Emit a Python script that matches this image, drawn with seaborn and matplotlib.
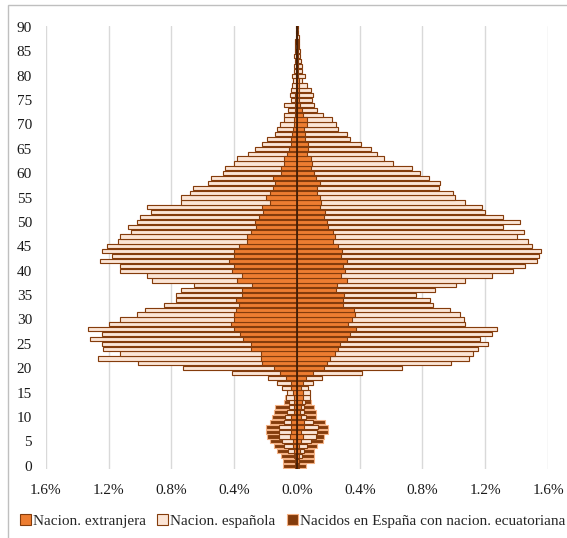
import numpy as np
import pandas as pd
import seaborn as sns
import matplotlib.pyplot as plt
from matplotlib.patches import Patch, Rectangle
from matplotlib.ticker import FuncFormatter

# Edades simples 0-90, % sobre el total de población
edades = list(range(91))

# Lado izquierdo
hom_extr = [0.008, 0.010, 0.012, 0.018, 0.024, 0.028, 0.045, 0.040, 0.040, 0.040,
            0.035, 0.022, 0.022, 0.022, 0.022, 0.026, 0.035, 0.040, 0.070, 0.106,
            0.147, 0.225, 0.230, 0.230, 0.290, 0.290, 0.345, 0.360, 0.400, 0.420,
            0.400, 0.400, 0.390, 0.370, 0.390, 0.350, 0.350, 0.285, 0.380, 0.350,
            0.415, 0.400, 0.430, 0.400, 0.400, 0.370, 0.320, 0.320, 0.295, 0.260,
            0.270, 0.240, 0.215, 0.225, 0.170, 0.200, 0.175, 0.155, 0.140, 0.150,
            0.100, 0.100, 0.080, 0.080, 0.066, 0.050, 0.040, 0.035, 0.030, 0.025,
            0.020, 0.020, 0.015, 0.015, 0.012, 0.010, 0.010, 0.008, 0.008, 0.005,
            0.005, 0.004, 0.004, 0.003, 0.004, 0.003, 0.002, 0.003, 0.002, 0.002, 0.002]
hom_esp = [0.002, 0.002, 0.005, 0.037, 0.061, 0.070, 0.072, 0.077, 0.077, 0.043,
           0.042, 0.040, 0.028, 0.028, 0.048, 0.040, 0.063, 0.088, 0.117, 0.309,
           0.578, 0.785, 1.040, 0.900, 0.945, 0.950, 0.975, 0.880, 0.935, 0.780,
           0.730, 0.620, 0.577, 0.480, 0.380, 0.420, 0.390, 0.372, 0.547, 0.607,
           0.715, 0.730, 0.825, 0.780, 0.840, 0.840, 0.820, 0.810, 0.765, 0.820,
           0.750, 0.760, 0.715, 0.732, 0.570, 0.540, 0.505, 0.505, 0.425, 0.400,
           0.370, 0.360, 0.320, 0.300, 0.244, 0.215, 0.180, 0.155, 0.110, 0.105,
           0.086, 0.063, 0.068, 0.045, 0.071, 0.026, 0.035, 0.028, 0.022, 0.020,
           0.025, 0.016, 0.016, 0.012, 0.016, 0.012, 0.008, 0.012, 0.006, 0.003, 0.002]
hom_ecu = [0.077, 0.075, 0.083, 0.075, 0.062, 0.072, 0.073, 0.083, 0.083, 0.091,
           0.083, 0.083, 0.090, 0.030, 0.005, 0, 0, 0, 0, 0,
           0, 0, 0, 0, 0, 0, 0, 0, 0, 0,
           0, 0, 0, 0, 0, 0, 0, 0, 0, 0,
           0, 0, 0, 0, 0, 0, 0, 0, 0, 0,
           0, 0, 0, 0, 0, 0, 0, 0, 0, 0,
           0, 0, 0, 0, 0, 0, 0, 0, 0, 0,
           0, 0, 0, 0, 0, 0, 0, 0, 0, 0,
           0, 0, 0, 0, 0, 0, 0, 0, 0, 0, 0]

# Lado derecho
muj_extr = [0.006, 0.010, 0.015, 0.020, 0.015, 0.027, 0.038, 0.027, 0.042, 0.042,
            0.027, 0.019, 0.023, 0.032, 0.036, 0.036, 0.028, 0.040, 0.060, 0.100,
            0.174, 0.191, 0.208, 0.245, 0.262, 0.276, 0.320, 0.336, 0.376, 0.327,
            0.353, 0.370, 0.366, 0.295, 0.291, 0.300, 0.249, 0.257, 0.317, 0.278,
            0.306, 0.291, 0.320, 0.278, 0.285, 0.262, 0.232, 0.240, 0.232, 0.200,
            0.193, 0.174, 0.179, 0.149, 0.153, 0.145, 0.130, 0.128, 0.149, 0.119,
            0.108, 0.087, 0.093, 0.087, 0.062, 0.068, 0.072, 0.051, 0.050, 0.047,
            0.062, 0.062, 0.038, 0.034, 0.017, 0.015, 0.015, 0.012, 0.010, 0.010,
            0.008, 0.008, 0.006, 0.006, 0.005, 0.005, 0.004, 0.004, 0.003, 0.003, 0.002]
muj_esp = [0.005, 0.005, 0.017, 0.027, 0.051, 0.062, 0.083, 0.101, 0.092, 0.060,
           0.033, 0.028, 0.024, 0.021, 0.049, 0.049, 0.042, 0.060, 0.100, 0.315,
           0.496, 0.791, 0.889, 0.880, 0.894, 0.944, 0.849, 0.910, 0.902, 0.744,
           0.714, 0.671, 0.607, 0.574, 0.555, 0.457, 0.633, 0.759, 0.757, 0.968,
           1.072, 1.161, 1.210, 1.267, 1.271, 1.238, 1.238, 1.160, 1.218, 1.110,
           1.231, 1.142, 1.021, 1.033, 0.921, 0.861, 0.865, 0.775, 0.763, 0.721,
           0.676, 0.648, 0.521, 0.470, 0.448, 0.402, 0.334, 0.289, 0.270, 0.213,
           0.184, 0.159, 0.126, 0.096, 0.093, 0.083, 0.089, 0.079, 0.056, 0.020,
           0.043, 0.022, 0.028, 0.019, 0.015, 0.015, 0.011, 0.009, 0.007, 0.005, 0.003]
muj_ecu = [0.049, 0.095, 0.074, 0.059, 0.059, 0.079, 0.051, 0.070, 0.064, 0.074,
           0.061, 0.074, 0.061, 0.036, 0, 0, 0, 0, 0, 0,
           0, 0, 0, 0, 0, 0, 0, 0, 0, 0,
           0, 0, 0, 0, 0, 0, 0, 0, 0, 0,
           0, 0, 0, 0, 0, 0, 0, 0, 0, 0,
           0, 0, 0, 0, 0, 0, 0, 0, 0, 0,
           0, 0, 0, 0, 0, 0, 0, 0, 0, 0,
           0, 0, 0, 0, 0, 0, 0, 0, 0, 0,
           0, 0, 0, 0, 0, 0, 0, 0, 0, 0, 0]

series = ["Nacion. extranjera", "Nacion. española",
          "Nacidos en España con nacion. ecuatoriana"]
c_extr, c_esp, c_ecu = "#ED7D31", "#FBE5D6", "#843C0C"
borde = "#843C0C"

sns.set_theme(style="white")
plt.rcParams["font.family"] = ["Liberation Serif", "DejaVu Serif"]

fig = plt.figure(figsize=(5.67, 5.38), dpi=100)
ax = fig.add_axes([0.081, 0.128, 0.8855, 0.8237])

# barras apiladas: se dibuja el total y encima los tramos interiores
for signo, extr, esp, ecu in [(-1, hom_extr, hom_esp, hom_ecu),
                              (1, muj_extr, muj_esp, muj_ecu)]:
    df = pd.DataFrame({"edad": edades, "extr": extr, "esp": esp, "ecu": ecu})
    df["c1"] = signo * df["extr"]
    df["c2"] = signo * (df["extr"] + df["esp"])
    df["c3"] = signo * (df["extr"] + df["esp"] + df["ecu"])
    for col, color, ec in [("c3", c_ecu, "#F4B183"), ("c2", c_esp, borde),
                           ("c1", c_extr, borde)]:
        sns.barplot(data=df, x=col, y="edad", orient="y", native_scale=True,
                    color=color, saturation=1, width=0.86, errorbar=None,
                    edgecolor=ec, linewidth=0.8, ax=ax)

ax.axvline(0, color="#3b1a05", lw=1.2, zorder=5)

ax.set_xlim(-1.6, 1.6)
ax.set_ylim(-0.7, 90.2)
ax.set_xticks(np.arange(-1.6, 1.61, 0.4))
ax.xaxis.set_major_formatter(FuncFormatter(lambda v, p: f"{abs(v):.1f}%"))
ax.set_yticks(range(0, 91, 5))
ax.tick_params(axis="both", length=0, labelsize=11, labelcolor="#1a1a1a")
ax.tick_params(axis="x", pad=11)
ax.tick_params(axis="y", pad=10)
ax.set_xlabel("")
ax.set_ylabel("")
ax.xaxis.grid(True, color="#d9d9d9", lw=1)
ax.yaxis.grid(False)
ax.set_axisbelow(True)
for s in ax.spines.values():
    s.set_visible(False)

handles = [Patch(facecolor=c_extr, edgecolor=borde, lw=0.8),
           Patch(facecolor=c_esp, edgecolor=borde, lw=0.8),
           Patch(facecolor=c_ecu, edgecolor="#F4B183", lw=0.8)]
fig.legend(handles, series, loc="center", bbox_to_anchor=(0.516, 0.032), ncol=3,
           frameon=False, fontsize=11, handlelength=0.7, handleheight=0.7,
           handletextpad=0.15, columnspacing=0.75)

fig.patches.append(Rectangle((8 / 567, -0.02), 1.0, 1 - 5 / 538 + 0.02,
                             transform=fig.transFigure, fill=False,
                             edgecolor="#bfbfbf", lw=1))

fig.savefig("out.png", dpi=100)
